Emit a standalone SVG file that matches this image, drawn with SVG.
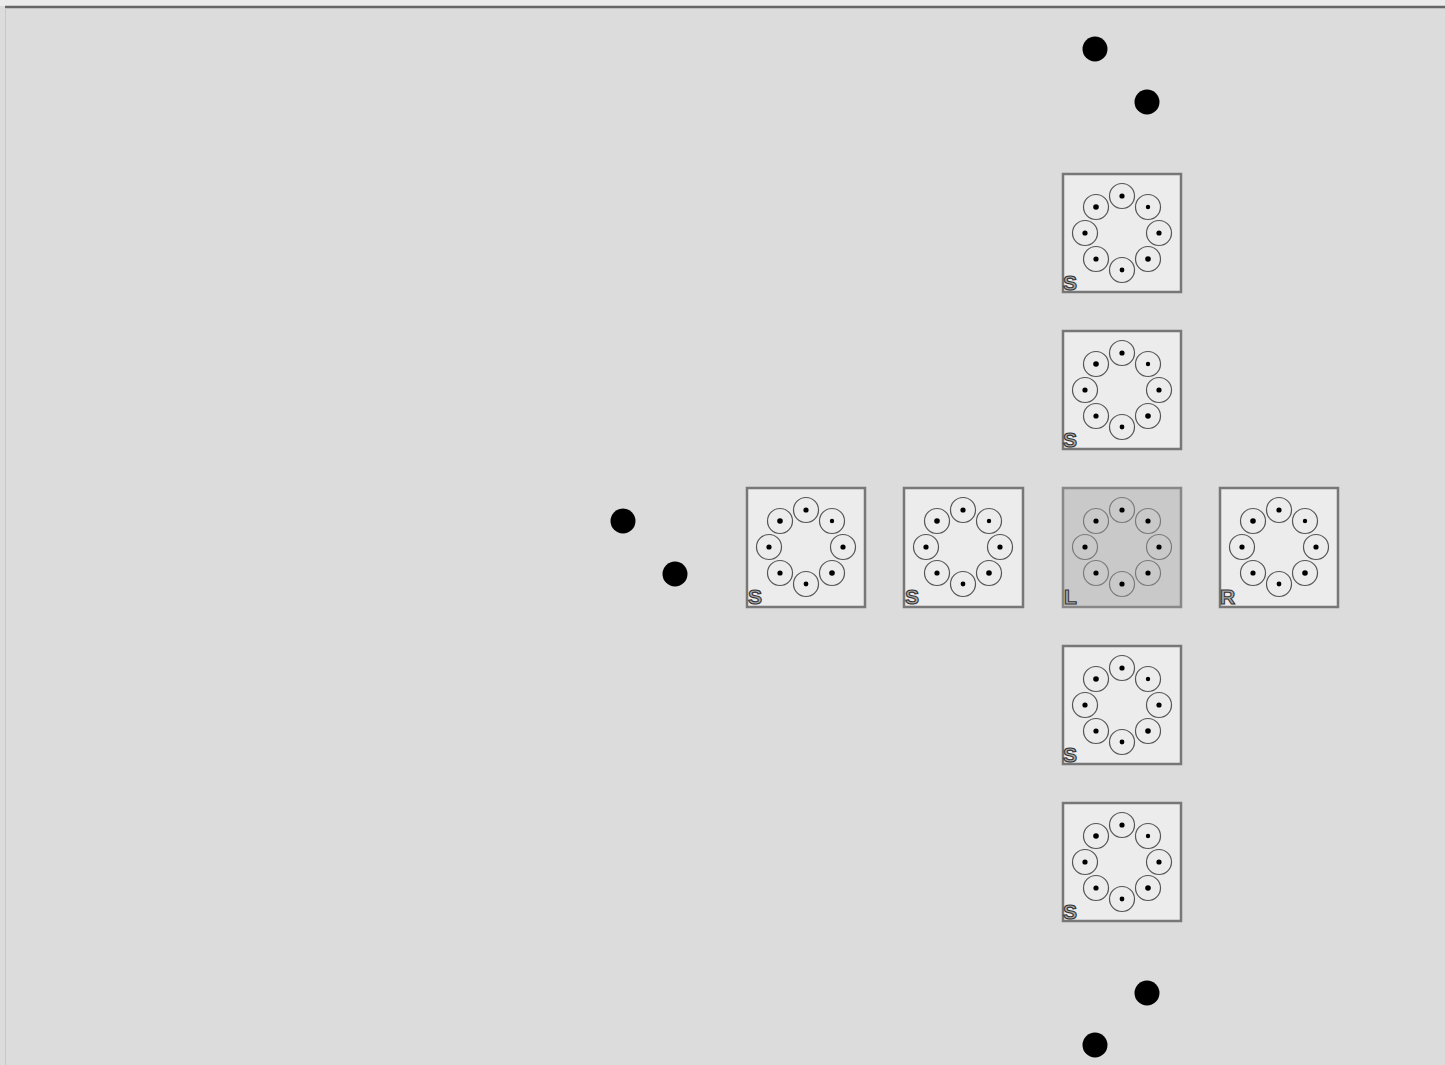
<svg xmlns="http://www.w3.org/2000/svg" xmlns:xlink="http://www.w3.org/1999/xlink" width="1445" height="1065" viewBox="0 0 1445 1065">
<style>
.tile{fill:#ececec;stroke:#777;stroke-width:2.5}
.tileL{fill:#c9c9c9;stroke:#888;stroke-width:2.5}
.cell{fill:none;stroke:#555;stroke-width:1.2}
.cellL{fill:none;stroke:#7a7a7a;stroke-width:1.2}
.pip{fill:#000}
.lab{font-family:"Liberation Sans",Arial,sans-serif;font-size:21px;font-weight:bold;fill:#aaa;stroke:#333;stroke-width:1.1}
.big{fill:#000}
</style>
<defs>
<g id="ring">
<circle class="cell" cx="0" cy="-37" r="12.5"/><circle class="pip" cx="0" cy="-37" r="2.6"/>
<circle class="cell" cx="26" cy="-26" r="12.5"/><circle class="pip" cx="26" cy="-26" r="2.2"/>
<circle class="cell" cx="37" cy="0" r="12.5"/><circle class="pip" cx="37" cy="0" r="2.6"/>
<circle class="cell" cx="26" cy="26" r="12.5"/><circle class="pip" cx="26" cy="26" r="2.8"/>
<circle class="cell" cx="0" cy="37" r="12.5"/><circle class="pip" cx="0" cy="37" r="2.4"/>
<circle class="cell" cx="-26" cy="26" r="12.5"/><circle class="pip" cx="-26" cy="26" r="2.6"/>
<circle class="cell" cx="-37" cy="0" r="12.5"/><circle class="pip" cx="-37" cy="0" r="2.6"/>
<circle class="cell" cx="-26" cy="-26" r="12.5"/><circle class="pip" cx="-26" cy="-26" r="2.8"/>
</g>
<g id="ringL">
<circle class="cellL" cx="0" cy="-37" r="12.5"/><circle class="pip" cx="0" cy="-37" r="2.6"/>
<circle class="cellL" cx="26" cy="-26" r="12.5"/><circle class="pip" cx="26" cy="-26" r="2.6"/>
<circle class="cellL" cx="37" cy="0" r="12.5"/><circle class="pip" cx="37" cy="0" r="2.6"/>
<circle class="cellL" cx="26" cy="26" r="12.5"/><circle class="pip" cx="26" cy="26" r="2.6"/>
<circle class="cellL" cx="0" cy="37" r="12.5"/><circle class="pip" cx="0" cy="37" r="2.6"/>
<circle class="cellL" cx="-26" cy="26" r="12.5"/><circle class="pip" cx="-26" cy="26" r="2.6"/>
<circle class="cellL" cx="-37" cy="0" r="12.5"/><circle class="pip" cx="-37" cy="0" r="2.6"/>
<circle class="cellL" cx="-26" cy="-26" r="12.5"/><circle class="pip" cx="-26" cy="-26" r="2.6"/>
</g>
</defs>
<rect x="0" y="0" width="1445" height="1065" fill="#dcdcdc"/>
<rect x="0" y="0" width="1445" height="6" fill="#ebebeb"/>
<line x1="5" y1="7" x2="1445" y2="7" stroke="#666" stroke-width="2.5"/>
<line x1="5.5" y1="8" x2="5.5" y2="1065" stroke="#c8c8c8" stroke-width="1"/>
<g id="tile-n2"><rect class="tile" x="1063" y="174" width="118" height="118"/><use xlink:href="#ring" x="1122" y="233"/><text class="lab" x="1063" y="290">S</text></g>
<g id="tile-n1"><rect class="tile" x="1063" y="331" width="118" height="118"/><use xlink:href="#ring" x="1122" y="390"/><text class="lab" x="1063" y="447">S</text></g>
<g id="tile-w2"><rect class="tile" x="747" y="488" width="118" height="119"/><use xlink:href="#ring" x="806" y="547"/><text class="lab" x="748" y="604">S</text></g>
<g id="tile-w1"><rect class="tile" x="904" y="488" width="119" height="119"/><use xlink:href="#ring" x="963" y="547"/><text class="lab" x="905" y="604">S</text></g>
<g id="tile-c"><rect class="tileL" x="1063" y="488" width="118" height="119"/><use xlink:href="#ringL" x="1122" y="547"/><text class="lab" x="1064" y="604">L</text></g>
<g id="tile-e1"><rect class="tile" x="1220" y="488" width="118" height="119"/><use xlink:href="#ring" x="1279" y="547"/><text class="lab" x="1220" y="604">R</text></g>
<g id="tile-s1"><rect class="tile" x="1063" y="646" width="118" height="118"/><use xlink:href="#ring" x="1122" y="705"/><text class="lab" x="1063" y="762">S</text></g>
<g id="tile-s2"><rect class="tile" x="1063" y="803" width="118" height="118"/><use xlink:href="#ring" x="1122" y="862"/><text class="lab" x="1063" y="919">S</text></g>
<g id="marker-n1"><circle class="big" cx="1095" cy="49" r="12.5"/></g>
<g id="marker-n2"><circle class="big" cx="1147" cy="102" r="12.5"/></g>
<g id="marker-w1"><circle class="big" cx="623" cy="521" r="12.5"/></g>
<g id="marker-w2"><circle class="big" cx="675" cy="574" r="12.5"/></g>
<g id="marker-s1"><circle class="big" cx="1147" cy="993" r="12.5"/></g>
<g id="marker-s2"><circle class="big" cx="1095" cy="1045" r="12.5"/></g>
<g id="connectors"></g>
</svg>
